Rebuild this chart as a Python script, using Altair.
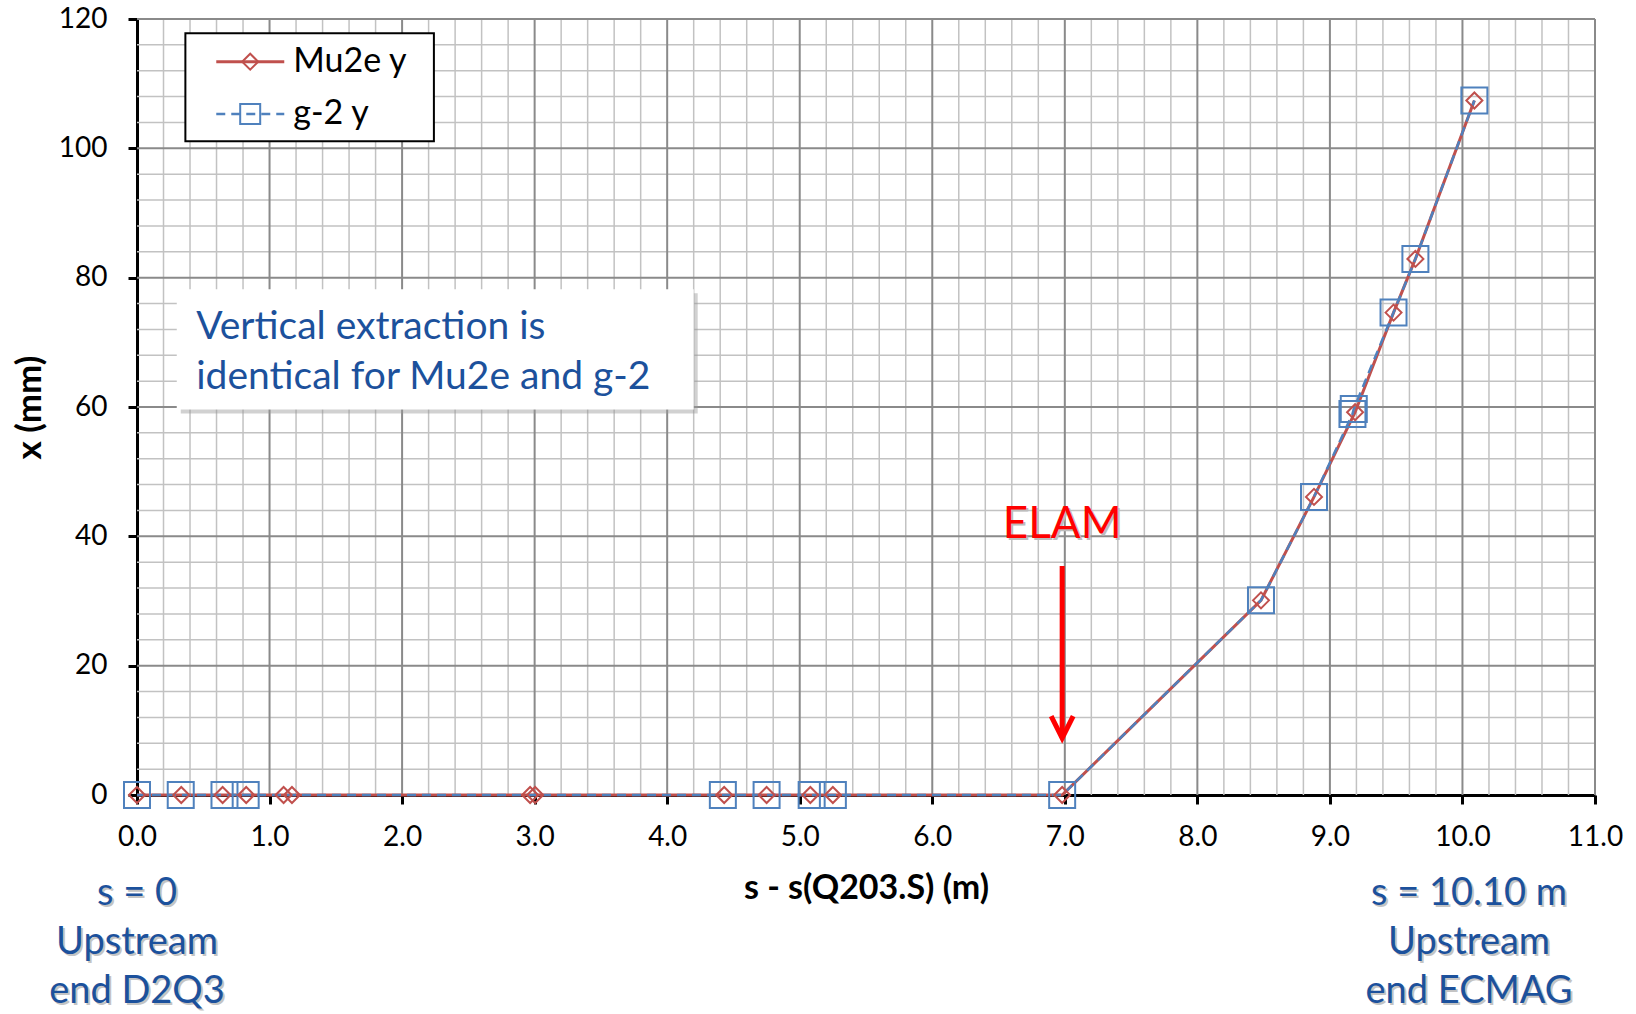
import altair as alt
import pandas as pd

# ---------------- data ----------------
series_names = ["Mu2e y", "g-2 y"]

mu2e_s = [0.0, 0.334, 0.646, 0.824, 1.106, 1.169, 2.966, 3.004, 4.43, 4.75,
          5.08, 5.25, 6.98, 8.48, 8.88, 9.19, 9.48, 9.645, 10.09]
mu2e_y = [0, 0, 0, 0, 0, 0, 0, 0, 0, 0,
          0, 0, 0, 30.1, 46.1, 59.2, 74.6, 82.9, 107.4]

g2_s = [0.0, 0.33, 0.66, 0.82, 4.42, 4.75, 5.09, 5.25, 6.98,
        8.48, 8.88, 9.17, 9.18, 9.48, 9.645, 10.09]
g2_y = [0, 0, 0, 0, 0, 0, 0, 0, 0,
        30.1, 46.1, 58.9, 59.7, 74.6, 82.9, 107.4]

x_major_ticks = list(range(0, 12))
y_major_ticks = list(range(0, 121, 20))
x_major_grid = [v for v in x_major_ticks if v > 0]
y_major_grid = [v for v in y_major_ticks if v > 0]
x_minor_grid = [round(i * 0.2, 1) for i in range(0, 56) if i % 5]
y_minor_grid = [i * 4 for i in range(0, 31) if i % 5]

note_lines = ["Vertical extraction is", "identical for Mu2e and g-2"]
bottom_left_lines = ["s = 0", "Upstream", "end D2Q3"]
bottom_right_lines = ["s = 10.10 m", "Upstream", "end ECMAG"]
elam_label = "ELAM"

# annotation anchors (data units: s in m, x in mm)
note_box = {"x": 0.30, "x2": 4.20, "y": 78.2, "y2": 59.6}
note_anchor = {"x": 0.447, "y": 72.3}
legend_box = {"x": 0.365, "x2": 2.24, "y": 117.8, "y2": 101.1}
legend_rows_y = [113.4, 105.3]
legend_line_x = [0.598, 1.111]
legend_marker_x = 0.854
legend_text_x = 1.179
bottom_x = [0.0, 10.05]
bottom_y = -15.3
elam_x = 6.98
elam_text_y = 41.8
elam_arrow_y = [35.4, 8.8]

# ---------------- styles ----------------
FONT = "Lato"
RED = "#C0504D"
BLUE = "#4F81BD"
TEXT_BLUE = "#1C519C"
MAJOR_GRID = "#8A8A8A"
MINOR_GRID = "#C2C2C2"

mu2e = pd.DataFrame({"s": mu2e_s, "y": mu2e_y})
g2 = pd.DataFrame({"s": g2_s, "y": g2_y})

xs = alt.Scale(domain=[0, 11], nice=False, zero=False)
ys = alt.Scale(domain=[0, 120], nice=False, zero=False)


def X(field="s"):
    return alt.X(f"{field}:Q", scale=xs, axis=None)


def Y(field="y"):
    return alt.Y(f"{field}:Q", scale=ys, axis=None)


# grid lines (drawn as rules on the shared scales)
def vgrid(values, color, width):
    df = pd.DataFrame({"g": values, "lo": 0, "hi": 120})
    return alt.Chart(df).mark_rule(color=color, strokeWidth=width).encode(
        x=X("g"), y=Y("lo"), y2="hi")


def hgrid(values, color, width):
    df = pd.DataFrame({"g": values, "lo": 0, "hi": 11})
    return alt.Chart(df).mark_rule(color=color, strokeWidth=width).encode(
        y=Y("g"), x=X("lo"), x2="hi")


grid_layers = [
    vgrid(x_minor_grid, MINOR_GRID, 1.5), hgrid(y_minor_grid, MINOR_GRID, 1.5),
    vgrid(x_major_grid, MAJOR_GRID, 2), hgrid(y_major_grid, MAJOR_GRID, 2),
]

# annotation box
note_df = pd.DataFrame([note_box])
note_shadow = alt.Chart(note_df).mark_rect(
    color="#9A9A9A", opacity=0.45, xOffset=4, yOffset=4, x2Offset=4, y2Offset=4
).encode(x=X("x"), x2="x2", y=Y("y"), y2="y2")
note_rect = alt.Chart(note_df).mark_rect(color="white").encode(
    x=X("x"), x2="x2", y=Y("y"), y2="y2")
note_text = alt.Chart(pd.DataFrame([{"x": note_anchor["x"], "y": note_anchor["y"],
                                     "t": "\n".join(note_lines)}])).mark_text(
    font=FONT, fontSize=39, color=TEXT_BLUE, align="left", baseline="middle",
    lineBreak="\n", lineHeight=50
).encode(x=X("x"), y=Y("y"), text="t:N")

# legend box
leg_df = pd.DataFrame([legend_box])
leg_rect = alt.Chart(leg_df).mark_rect(fill="white", stroke="black", strokeWidth=2).encode(
    x=X("x"), x2="x2", y=Y("y"), y2="y2")

# main series (axes live here)
mu2e_line = alt.Chart(mu2e).mark_line(color=RED, strokeWidth=3).encode(
    x=alt.X("s:Q", scale=xs, axis=alt.Axis(
        values=x_major_ticks, format=".1f", grid=False,
        domainColor="black", domainWidth=3, tickColor="black",
        tickWidth=3, tickSize=9, labelFont=FONT, labelFontSize=28,
        labelColor="black", labelPadding=19, labelFlush=False, labelOverlap=False,
        title="s - s(Q203.S) (m)", titleFont=FONT, titleFontSize=34,
        titleFontWeight="bold", titleColor="black", titlePadding=20,
        orient="bottom")),
    y=alt.Y("y:Q", scale=ys, axis=alt.Axis(
        values=y_major_ticks, format="d", grid=False,
        domainColor="black", domainWidth=3, tickColor="black",
        tickWidth=3, tickSize=9, labelFont=FONT, labelFontSize=28,
        labelColor="black", labelPadding=21, labelOverlap=False,
        title="x (mm)", titleFont=FONT, titleFontSize=35,
        titleFontWeight="bold", titleColor="black", titlePadding=11,
        orient="left")),
)
g2_line = alt.Chart(g2).mark_line(color=BLUE, strokeWidth=2.5, strokeDash=[9, 6]).encode(
    x=X(), y=Y())
g2_pts = alt.Chart(g2).mark_point(shape="square", size=676, filled=False, color=BLUE,
                                  strokeWidth=2, opacity=1).encode(x=X(), y=Y())
mu2e_pts = alt.Chart(mu2e).mark_point(shape="diamond", size=256, filled=False, color=RED,
                                      strokeWidth=2, opacity=1).encode(x=X(), y=Y())

# legend entries
leg_lines = pd.DataFrame({"x": [legend_line_x[0]] * 2, "x2": [legend_line_x[1]] * 2,
                          "y": legend_rows_y, "name": series_names,
                          "mx": [legend_marker_x] * 2, "tx": [legend_text_x] * 2})
leg_mu2e_line = alt.Chart(leg_lines.iloc[[0]]).mark_rule(color=RED, strokeWidth=3).encode(
    x=X("x"), x2="x2", y=Y("y"))
leg_g2_line = alt.Chart(leg_lines.iloc[[1]]).mark_rule(color=BLUE, strokeWidth=2.5,
                                                        strokeDash=[9, 6]).encode(
    x=X("x"), x2="x2", y=Y("y"))
leg_g2_pt = alt.Chart(leg_lines.iloc[[1]]).mark_point(
    shape="square", size=400, filled=False, color=BLUE, strokeWidth=2, opacity=1).encode(
    x=X("mx"), y=Y("y"))
leg_mu2e_pt = alt.Chart(leg_lines.iloc[[0]]).mark_point(
    shape="diamond", size=256, filled=False, color=RED, strokeWidth=2,
    opacity=1).encode(x=X("mx"), y=Y("y"))
leg_text = alt.Chart(leg_lines).mark_text(
    font=FONT, fontSize=34, color="black", align="left", baseline="middle").encode(
    x=X("tx"), y=Y("y"), text="name:N")

# ELAM label and arrow
elam_df = pd.DataFrame({"x": [elam_x], "y": [elam_text_y], "t": [elam_label],
                        "ya": [elam_arrow_y[0]], "yb": [elam_arrow_y[1]]})
elam_shadow = alt.Chart(elam_df).mark_text(
    font=FONT, fontSize=44, color="#BDBDBD", align="center", baseline="middle",
    dx=2, dy=2).encode(x=X("x"), y=Y("y"), text="t:N")
elam_text = alt.Chart(elam_df).mark_text(
    font=FONT, fontSize=44, color="#FF0000", align="center", baseline="middle").encode(
    x=X("x"), y=Y("y"), text="t:N")
elam_shaft = alt.Chart(elam_df).mark_rule(color="#FF0000", strokeWidth=5).encode(
    x=X("x"), y=Y("ya"), y2="yb")
elam_head = alt.Chart(elam_df).mark_point(
    shape="M -1 -2 L 0 0 L 1 -2", size=484, filled=False, color="#FF0000",
    strokeWidth=5, opacity=1, strokeJoin="miter").encode(x=X("x"), y=Y("yb"))

# bottom labels
bottom_df = pd.DataFrame({"x": bottom_x, "y": [bottom_y] * 2,
                          "t": ["\n".join(bottom_left_lines), "\n".join(bottom_right_lines)]})
bottom_shadow = alt.Chart(bottom_df).mark_text(
    font=FONT, fontSize=38, color="#C4C4C4", align="center", baseline="middle",
    lineBreak="\n", lineHeight=49, dx=2, dy=2).encode(x=X("x"), y=Y("y"), text="t:N")
bottom_text = alt.Chart(bottom_df).mark_text(
    font=FONT, fontSize=38, color=TEXT_BLUE, align="center", baseline="middle",
    lineBreak="\n", lineHeight=49).encode(x=X("x"), y=Y("y"), text="t:N")

chart = alt.layer(
    *grid_layers, note_shadow, note_rect, note_text, leg_rect,
    mu2e_line, g2_line, g2_pts, mu2e_pts,
    leg_mu2e_line, leg_g2_line, leg_g2_pt, leg_mu2e_pt, leg_text,
    elam_shadow, elam_text, elam_shaft, elam_head,
    bottom_shadow, bottom_text,
).resolve_axis(x="independent", y="independent").properties(
    width=1458, height=776,
    padding={"left": 137, "top": 19, "right": 41, "bottom": 219},
    autosize=alt.AutoSizeParams(type="none"),
    background="white",
).configure_view(stroke="transparent")

chart.save("out.html", embed_options={"renderer": "svg", "actions": False})
